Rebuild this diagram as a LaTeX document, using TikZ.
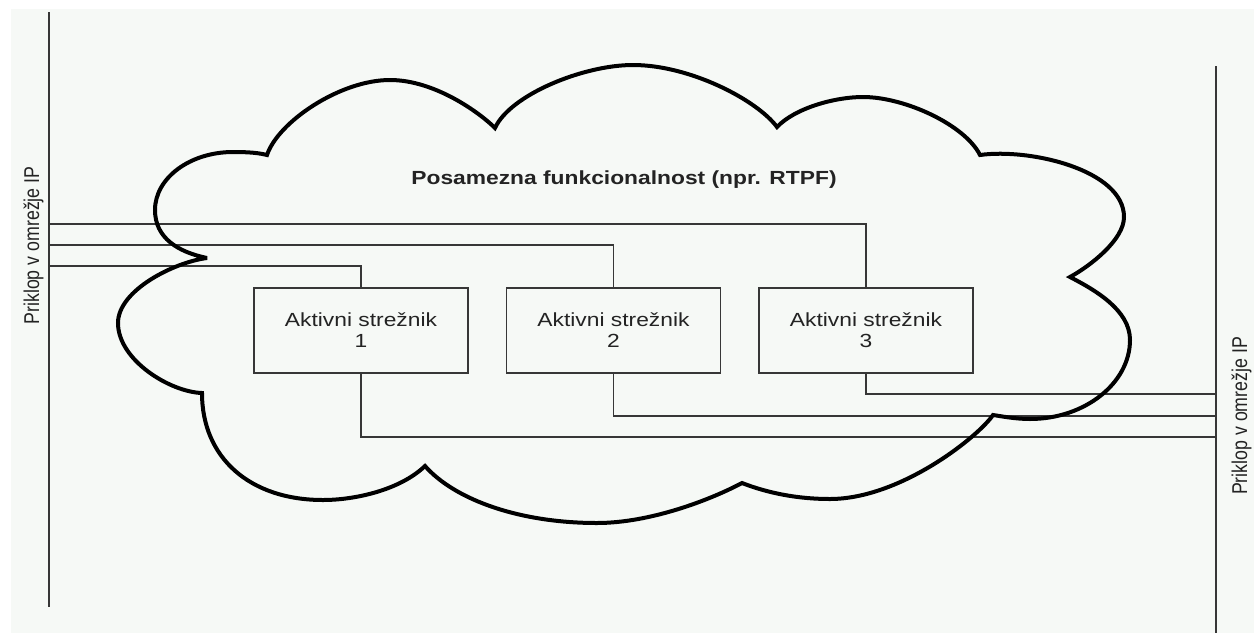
\documentclass[tikz,border=0pt]{standalone}
\usepackage{fontspec}
\setmainfont{Liberation Sans}
\newfontfamily\widefont[FakeStretch=1.2]{Liberation Sans}
\newfontfamily\narrowfont[FakeStretch=0.83]{Liberation Sans}
\definecolor{paper}{RGB}{246,249,246}
\definecolor{ink}{RGB}{35,35,35}
\definecolor{wire}{RGB}{55,55,55}

\begin{document}
\begin{tikzpicture}[x=1pt,y=-1pt,
  server/.style={draw=wire, line width=1.2pt, minimum width=214pt, minimum height=85pt,
    inner sep=0pt, align=center, text=ink, font=\widefont\fontsize{19}{21}\selectfont},
  wireline/.style={draw=wire, line width=1.3pt},
  bus/.style={draw=wire, line width=1.4pt},
  cloudline/.style={draw=black, line width=4pt, line join=miter, miter limit=4},
  sidelabel/.style={rotate=90, anchor=base, inner sep=0pt, text=ink,
    font=\narrowfont\fontsize{21.4}{24}\selectfont},
  titlelabel/.style={anchor=base, inner sep=0pt, text=ink,
    font=\widefont\bfseries\fontsize{19}{21}\selectfont}]

% canvas
\useasboundingbox (0,0) rectangle (1254,633);
\fill[white] (0,0) rectangle (1254,633);
\fill[paper] (11,9) rectangle (1254,633);

% the two network attachment bars
\coordinate (ltop) at (49,12);
\coordinate (lbot) at (49,607);
\coordinate (rtop) at (1216,66);
\coordinate (rbot) at (1216,633);
\draw[bus] (ltop) -- (lbot);
\draw[bus] (rtop) -- (rbot);

% servers
\node[server] (s1) at (361,330.5) {Aktivni strežnik\\1};
\node[server] (s2) at (613.5,330.5) {Aktivni strežnik\\2};
\node[server] (s3) at (866,330.5) {Aktivni strežnik\\3};

% taps on the bars
\coordinate (l3) at (49,224);
\coordinate (l2) at (49,245);
\coordinate (l1) at (49,266);
\coordinate (r3) at (1216,394);
\coordinate (r2) at (1216,416);
\coordinate (r1) at (1216,437);

% connections
\draw[wireline] (l3) -| (s3.north);
\draw[wireline] (l2) -| (s2.north);
\draw[wireline] (l1) -| (s1.north);
\draw[wireline] (s3.south) |- (r3);
\draw[wireline] (s2.south) |- (r2);
\draw[wireline] (s1.south) |- (r1);

% cloud outline: ten lobes meeting in sharp cusps
\draw[cloudline]
  (207,258) .. controls (178,252) and (155,238) .. (155,210)
            .. controls (155,178) and (190,152) .. (233,152)
            .. controls (250,152) and (259,153) .. (267,155)
            .. controls (278,122) and (340,80) .. (390,80)
            .. controls (435,80) and (480,113) .. (495,128)
            .. controls (510,95) and (583,65) .. (633,65)
            .. controls (690,65) and (757,100) .. (777,127)
            .. controls (795,108) and (835,97) .. (863,97)
            .. controls (905,97) and (965,125) .. (980,155)
            .. controls (1030,148) and (1124,170) .. (1124,217)
            .. controls (1124,240) and (1090,266) .. (1070,277)
            .. controls (1095,290) and (1130,310) .. (1130,340)
            .. controls (1130,383) and (1085,419) .. (1030,419)
            .. controls (1015,419) and (1000,416) .. (993,415)
            .. controls (978,437) and (900,499) .. (830,499)
            .. controls (790,499) and (760,490) .. (742,483)
            .. controls (710,500) and (650,523) .. (597,523)
            .. controls (520,523) and (455,500) .. (425,466)
            .. controls (400,490) and (355,500) .. (323,500)
            .. controls (250,500) and (202,458) .. (202,393)
            .. controls (170,392) and (118,360) .. (118,323)
            .. controls (118,290) and (175,262) .. cycle;

% labels
\node[titlelabel] (title) at (624,184) {Posamezna funkcionalnost (npr. RTPF)};
\node[sidelabel] (lname) at (39,245.5) {Priklop v omrežje IP};
\node[sidelabel] (rname) at (1247,416) {Priklop v omrežje IP};
\end{tikzpicture}
\end{document}
